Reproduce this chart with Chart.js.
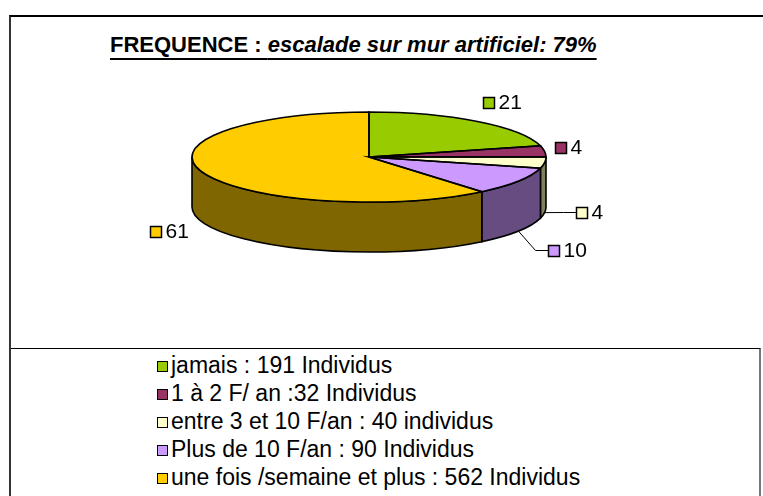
<!DOCTYPE html>
<html>
<head>
<meta charset="utf-8">
<script src="https://cdn.jsdelivr.net/npm/chart.js@4.4.1/dist/chart.umd.min.js"></script>
<style>
  html, body { margin: 0; padding: 0; background: #fff; overflow: hidden; }
  body { width: 763px; height: 496px; position: relative; font-family: "Liberation Sans", Arial, sans-serif; }
  #frame { position: absolute; left: 9px; top: 15px; width: 900px; height: 600px;
           border-left: 2px solid #333; border-top: 2px solid #000; }
  #legendBox { position: absolute; left: 11px; top: 348px; width: 748px; height: 300px;
               border-top: 1.5px solid #000; border-right: 2px solid #777; }
  #title { position: absolute; left: 110px; top: 34px; font-size: 22px; line-height: 22px;
           font-weight: bold; white-space: nowrap; text-decoration: underline;
           text-decoration-thickness: 2px; text-underline-offset: 6px; }
  #title i { font-style: italic; }
  #legend { position: absolute; left: 157px; top: 351px; font-size: 23px; line-height: 28px; }
  #legend div { white-space: nowrap; }
  #legend span.key { display: inline-block; width: 9px; height: 9px; border: 1.5px solid #000;
                     margin-right: 3px; vertical-align: 1px; }
  canvas { position: absolute; left: 0; top: 0; }
</style>
</head>
<body>
<div id="frame"></div>
<div id="legendBox"></div>
<div id="title">FREQUENCE : <i>escalade sur mur artificiel: 79%</i></div>
<div id="legend"></div>
<canvas id="pie" width="763" height="496"></canvas>
<script>
// data
const categories = [
    'jamais : 191 Individus',
    '1 à 2 F/ an :32 Individus',
    'entre 3 et 10 F/an : 40 individus',
    'Plus de 10 F/an : 90 Individus',
    'une fois /semaine et plus : 562 Individus'
];
const percents = [21, 4, 4, 10, 61];
const colours = ['#99CC00', '#993366', '#FFFFCC', '#CC99FF', '#FFCC00'];
const sideColours = ['#4D6600', '#4D1A33', '#80805F', '#664C80', '#7F6600'];

// 3d look
const TILT = 45 / 177;
const DEPTH = 50;
const CENTER_Y = 157;
// label placement relative to the rim point of each slice
const LABEL_OFFSETS = [[6, -19], [10, -4], [31, -1], [30, 19], [-52, 9]];
const LEADERS = [false, false, true, true, false];

// html legend
const legendEl = document.getElementById('legend');
categories.forEach((c, i) => {
    const row = document.createElement('div');
    row.innerHTML = '<span class="key" style="background:' + colours[i] + '"></span>' + c;
    legendEl.appendChild(row);
});

const pie3d = {
    id: 'pie3d',
    beforeDatasetsDraw(chart) {
        const ctx = chart.ctx;
        const arcs = chart.getDatasetMeta(0).data;
        // front walls
        arcs.forEach((arc, i) => {
            const a1 = Math.max(arc.startAngle, 0);
            const a2 = Math.min(arc.endAngle, Math.PI);
            if (a2 <= a1) return;
            const r = arc.outerRadius, ry = r * TILT;
            ctx.beginPath();
            ctx.ellipse(arc.x, CENTER_Y, r, ry, 0, a1, a2);
            ctx.lineTo(arc.x + r * Math.cos(a2), CENTER_Y + ry * Math.sin(a2) + DEPTH);
            ctx.ellipse(arc.x, CENTER_Y + DEPTH, r, ry, 0, a2, a1, true);
            ctx.closePath();
            ctx.fillStyle = sideColours[i];
            ctx.fill();
            ctx.lineWidth = 1.6;
            ctx.strokeStyle = '#000';
            ctx.stroke();
        });
        // squash the top face
        ctx.save();
        ctx.translate(0, CENTER_Y);
        ctx.scale(1, TILT);
        ctx.translate(0, -arcs[0].y);
    },
    afterDatasetsDraw(chart) {
        const ctx = chart.ctx;
        ctx.restore();
        const arcs = chart.getDatasetMeta(0).data;
        // top outlines
        arcs.forEach((arc) => {
            const r = arc.outerRadius, ry = r * TILT;
            ctx.beginPath();
            ctx.moveTo(arc.x, CENTER_Y);
            ctx.lineTo(arc.x + r * Math.cos(arc.startAngle), CENTER_Y + ry * Math.sin(arc.startAngle));
            ctx.ellipse(arc.x, CENTER_Y, r, ry, 0, arc.startAngle, arc.endAngle);
            ctx.closePath();
            ctx.lineWidth = 1.6;
            ctx.strokeStyle = '#000';
            ctx.stroke();
        });
        // data labels
        ctx.font = '21px "Liberation Sans", Arial, sans-serif';
        ctx.textBaseline = 'middle';
        ctx.textAlign = 'left';
        arcs.forEach((arc, i) => {
            const r = arc.outerRadius, ry = r * TILT;
            const mid = (arc.startAngle + arc.endAngle) / 2;
            const front = Math.sin(mid) > 0;
            const px = arc.x + r * Math.cos(mid);
            const py = CENTER_Y + ry * Math.sin(mid) + (front ? DEPTH : 0);
            const sx = Math.round(px + LABEL_OFFSETS[i][0]) + 0.5;
            const sy = Math.round(py + LABEL_OFFSETS[i][1]) + 0.5;
            if (LEADERS[i]) {
                ctx.beginPath();
                ctx.moveTo(px, py);
                ctx.lineTo(sx - 13, sy);
                ctx.lineTo(sx, sy);
                ctx.lineWidth = 1;
                ctx.strokeStyle = '#000';
                ctx.stroke();
            }
            ctx.fillStyle = colours[i];
            ctx.fillRect(sx, sy - 5, 11, 11);
            ctx.lineWidth = 1.5;
            ctx.strokeStyle = '#000';
            ctx.strokeRect(sx, sy - 5, 11, 11);
            ctx.fillStyle = '#000';
            ctx.fillText(String(percents[i]), sx + 15, sy + 1);
        });
    }
};

new Chart(document.getElementById('pie'), {
    type: 'pie',
    data: {
        labels: categories,
        datasets: [{
            data: percents,
            backgroundColor: colours,
            borderWidth: 0,
            hoverOffset: 0,
            hoverBorderWidth: 0
        }]
    },
    options: {
        responsive: false,
        animation: false,
        events: [],
        radius: 177,
        layout: { padding: { left: 192, right: 217, top: 0, bottom: 0 } },
        plugins: {
            legend: { display: false },
            tooltip: { enabled: false },
            title: { display: false }
        }
    },
    plugins: [pie3d]
});
</script>
</body>
</html>
